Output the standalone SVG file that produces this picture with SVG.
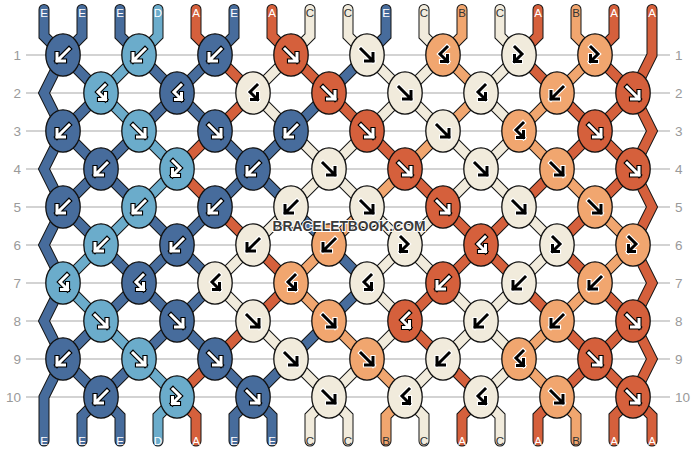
<svg xmlns="http://www.w3.org/2000/svg" xmlns:xlink="http://www.w3.org/1999/xlink" width="696" height="452" viewBox="0 0 696 452">
<style>
.ln{stroke:#C4C4C4;stroke-width:1.6}
.so{fill:none;stroke:#151515;stroke-width:11;stroke-linejoin:miter;stroke-linecap:round}
.sf{fill:none;stroke-width:9;stroke-linejoin:miter;stroke-linecap:round}
.sA{stroke:#D5603C}.sB{stroke:#F1A66F}.sC{stroke:#F1EBDC}.sD{stroke:#6BACCB}.sE{stroke:#476C9C}
.k{stroke:#111;stroke-width:1.3}
.kA{fill:#D5603C}.kB{fill:#F1A66F}.kC{fill:#F1EBDC}.kD{fill:#6BACCB}.kE{fill:#476C9C}
.wo{fill:none;stroke:#000;stroke-width:5.2;stroke-linecap:square;stroke-linejoin:miter}
.wi{fill:none;stroke:#fff;stroke-width:3;stroke-linecap:square;stroke-linejoin:miter}
.bo{fill:none;stroke:#fff;stroke-width:5.2;stroke-linecap:square;stroke-linejoin:miter}
.bi{fill:none;stroke:#000;stroke-width:3;stroke-linecap:square;stroke-linejoin:miter}
.rn{font-family:"Liberation Sans",Arial,sans-serif;font-size:13.5px;fill:#9A9A9A}
.lb{font-family:"Liberation Sans",Arial,sans-serif;font-size:11.5px;text-anchor:middle}
.lw{fill:#fff}.ld{fill:#333}
.wm{font-family:"Liberation Sans",Arial,sans-serif;font-weight:bold;font-size:14.5px;fill:#3A3A3A;stroke:#fff;stroke-width:2;paint-order:stroke;text-anchor:middle}
</style>
<defs>
<path id="pF" d="M-6,-6 L6,6 M6,-1.5 L6,6 L-1.5,6"/>
<path id="pB" d="M6,-6 L-6,6 M-6,-1.5 L-6,6 L1.5,6"/>
<path id="pFB" d="M-4,-8 L3,-1 L-4.5,6.5 M-4.5,0.5 L-4.5,6.5 L1.5,6.5"/>
<path id="pBF" d="M4,-8 L-3,-1 L4.5,6.5 M4.5,0.5 L4.5,6.5 L-1.5,6.5"/>
<g id="wF"><use href="#pF" class="wo"/><use href="#pF" class="wi"/></g>
<g id="wB"><use href="#pB" class="wo"/><use href="#pB" class="wi"/></g>
<g id="wFB"><use href="#pFB" class="wo"/><use href="#pFB" class="wi"/></g>
<g id="wBF"><use href="#pBF" class="wo"/><use href="#pBF" class="wi"/></g>
<g id="bF"><use href="#pF" class="bo"/><use href="#pF" class="bi"/></g>
<g id="bB"><use href="#pB" class="bo"/><use href="#pB" class="bi"/></g>
<g id="bFB"><use href="#pFB" class="bo"/><use href="#pFB" class="bi"/></g>
<g id="bBF"><use href="#pBF" class="bo"/><use href="#pBF" class="bi"/></g>
</defs>
<rect width="696" height="452" fill="#fff"/>
<g id="rows">
<line class="ln" x1="26" y1="55" x2="670" y2="55"/>
<line class="ln" x1="26" y1="93" x2="670" y2="93"/>
<line class="ln" x1="26" y1="131" x2="670" y2="131"/>
<line class="ln" x1="26" y1="169" x2="670" y2="169"/>
<line class="ln" x1="26" y1="207" x2="670" y2="207"/>
<line class="ln" x1="26" y1="245" x2="670" y2="245"/>
<line class="ln" x1="26" y1="283" x2="670" y2="283"/>
<line class="ln" x1="26" y1="321" x2="670" y2="321"/>
<line class="ln" x1="26" y1="359" x2="670" y2="359"/>
<line class="ln" x1="26" y1="397" x2="670" y2="397"/>
<g class="rn" text-anchor="end">
<text x="21" y="60">1</text><text x="21" y="98">2</text><text x="21" y="136">3</text><text x="21" y="174">4</text><text x="21" y="212">5</text><text x="21" y="250">6</text><text x="21" y="288">7</text><text x="21" y="326">8</text><text x="21" y="364">9</text><text x="21" y="402">10</text>
</g>
<g class="rn">
<text x="675" y="60">1</text><text x="675" y="98">2</text><text x="675" y="136">3</text><text x="675" y="174">4</text><text x="675" y="212">5</text><text x="675" y="250">6</text><text x="675" y="288">7</text><text x="675" y="326">8</text><text x="675" y="364">9</text><text x="675" y="402">10</text>
</g>
</g>
<g id="strings">
<g id="s0"><polyline class="so" points="44,9.5 44,36 63,55 101,93 63,131 44,169 63,207 101,245 139,283 101,321 63,359 44,397 44,441"/><polyline class="sf sE" points="44,9.5 44,36 63,55 101,93 63,131 44,169 63,207 101,245 139,283 101,321 63,359 44,397 44,441"/></g>
<g id="s1"><polyline class="so" points="82,9.5 82,36 63,55 44,93 63,131 101,169 139,207 177,245 215,283 177,321 139,359 101,397 82,416 82,441"/><polyline class="sf sE" points="82,9.5 82,36 63,55 44,93 63,131 101,169 139,207 177,245 215,283 177,321 139,359 101,397 82,416 82,441"/></g>
<g id="s2"><polyline class="so" points="120,9.5 120,36 139,55 177,93 139,131 101,169 63,207 44,245 63,283 44,321 63,359 101,397 120,416 120,441"/><polyline class="sf sE" points="120,9.5 120,36 139,55 177,93 139,131 101,169 63,207 44,245 63,283 44,321 63,359 101,397 120,416 120,441"/></g>
<g id="s3"><polyline class="so" points="158,9.5 158,36 139,55 101,93 139,131 177,169 139,207 101,245 63,283 101,321 139,359 177,397 158,416 158,441"/><polyline class="sf sD" points="158,9.5 158,36 139,55 101,93 139,131 177,169 139,207 101,245 63,283 101,321 139,359 177,397 158,416 158,441"/></g>
<g id="s4"><polyline class="so" points="196,9.5 196,36 215,55 253,93 215,131 177,169 215,207 253,245 291,283 253,321 215,359 177,397 196,416 196,441"/><polyline class="sf sA" points="196,9.5 196,36 215,55 253,93 215,131 177,169 215,207 253,245 291,283 253,321 215,359 177,397 196,416 196,441"/></g>
<g id="s5"><polyline class="so" points="234,9.5 234,36 215,55 177,93 215,131 253,169 291,207 329,245 367,283 329,321 291,359 253,397 234,416 234,441"/><polyline class="sf sE" points="234,9.5 234,36 215,55 177,93 215,131 253,169 291,207 329,245 367,283 329,321 291,359 253,397 234,416 234,441"/></g>
<g id="s6"><polyline class="so" points="272,9.5 272,36 291,55 329,93 367,131 405,169 443,207 481,245 443,283 405,321 443,359 481,397 462,416 462,441"/><polyline class="sf sA" points="272,9.5 272,36 291,55 329,93 367,131 405,169 443,207 481,245 443,283 405,321 443,359 481,397 462,416 462,441"/></g>
<g id="s7"><polyline class="so" points="310,9.5 310,36 291,55 253,93 291,131 329,169 367,207 405,245 367,283 405,321 367,359 329,397 310,416 310,441"/><polyline class="sf sC" points="310,9.5 310,36 291,55 253,93 291,131 329,169 367,207 405,245 367,283 405,321 367,359 329,397 310,416 310,441"/></g>
<g id="s8"><polyline class="so" points="348,9.5 348,36 367,55 405,93 443,131 481,169 519,207 557,245 519,283 481,321 443,359 405,397 424,416 424,441"/><polyline class="sf sC" points="348,9.5 348,36 367,55 405,93 443,131 481,169 519,207 557,245 519,283 481,321 443,359 405,397 424,416 424,441"/></g>
<g id="s9"><polyline class="so" points="386,9.5 386,36 367,55 329,93 291,131 253,169 215,207 177,245 139,283 177,321 215,359 253,397 272,416 272,441"/><polyline class="sf sE" points="386,9.5 386,36 367,55 329,93 291,131 253,169 215,207 177,245 139,283 177,321 215,359 253,397 272,416 272,441"/></g>
<g id="s10"><polyline class="so" points="424,9.5 424,36 443,55 405,93 367,131 329,169 291,207 253,245 215,283 253,321 291,359 329,397 348,416 348,441"/><polyline class="sf sC" points="424,9.5 424,36 443,55 405,93 367,131 329,169 291,207 253,245 215,283 253,321 291,359 329,397 348,416 348,441"/></g>
<g id="s11"><polyline class="so" points="462,9.5 462,36 443,55 481,93 443,131 405,169 367,207 329,245 291,283 329,321 367,359 405,397 386,416 386,441"/><polyline class="sf sB" points="462,9.5 462,36 443,55 481,93 443,131 405,169 367,207 329,245 291,283 329,321 367,359 405,397 386,416 386,441"/></g>
<g id="s12"><polyline class="so" points="500,9.5 500,36 519,55 481,93 519,131 481,169 443,207 405,245 443,283 481,321 519,359 481,397 500,416 500,441"/><polyline class="sf sC" points="500,9.5 500,36 519,55 481,93 519,131 481,169 443,207 405,245 443,283 481,321 519,359 481,397 500,416 500,441"/></g>
<g id="s13"><polyline class="so" points="538,9.5 538,36 519,55 557,93 595,131 633,169 652,207 633,245 652,283 633,321 595,359 557,397 538,416 538,441"/><polyline class="sf sA" points="538,9.5 538,36 519,55 557,93 595,131 633,169 652,207 633,245 652,283 633,321 595,359 557,397 538,416 538,441"/></g>
<g id="s14"><polyline class="so" points="576,9.5 576,36 595,55 557,93 519,131 557,169 595,207 633,245 595,283 557,321 519,359 557,397 576,416 576,441"/><polyline class="sf sB" points="576,9.5 576,36 595,55 557,93 519,131 557,169 595,207 633,245 595,283 557,321 519,359 557,397 576,416 576,441"/></g>
<g id="s15"><polyline class="so" points="614,9.5 614,36 595,55 633,93 652,131 633,169 595,207 557,245 595,283 633,321 652,359 633,397 614,416 614,441"/><polyline class="sf sA" points="614,9.5 614,36 595,55 633,93 652,131 633,169 595,207 557,245 595,283 633,321 652,359 633,397 614,416 614,441"/></g>
<g id="s16"><polyline class="so" points="652,9.5 652,55 633,93 595,131 557,169 519,207 481,245 519,283 557,321 595,359 633,397 652,416 652,441"/><polyline class="sf sA" points="652,9.5 652,55 633,93 595,131 557,169 519,207 481,245 519,283 557,321 595,359 633,397 652,416 652,441"/></g>
</g>
<g id="knots">
<g id="k1-1"><ellipse class="k kE" cx="63" cy="55" rx="17.2" ry="21.2"/><use href="#wB" x="63" y="55"/></g>
<g id="k1-2"><ellipse class="k kD" cx="139" cy="55" rx="17.2" ry="21.2"/><use href="#wB" x="139" y="55"/></g>
<g id="k1-3"><ellipse class="k kE" cx="215" cy="55" rx="17.2" ry="21.2"/><use href="#wB" x="215" y="55"/></g>
<g id="k1-4"><ellipse class="k kA" cx="291" cy="55" rx="17.2" ry="21.2"/><use href="#wF" x="291" y="55"/></g>
<g id="k1-5"><ellipse class="k kC" cx="367" cy="55" rx="17.2" ry="21.2"/><use href="#bF" x="367" y="55"/></g>
<g id="k1-6"><ellipse class="k kB" cx="443" cy="55" rx="17.2" ry="21.2"/><use href="#bBF" x="443" y="55"/></g>
<g id="k1-7"><ellipse class="k kC" cx="519" cy="55" rx="17.2" ry="21.2"/><use href="#bFB" x="519" y="55"/></g>
<g id="k1-8"><ellipse class="k kB" cx="595" cy="55" rx="17.2" ry="21.2"/><use href="#bFB" x="595" y="55"/></g>

<g id="k2-1"><ellipse class="k kD" cx="101" cy="93" rx="17.2" ry="21.2"/><use href="#wBF" x="101" y="93"/></g>
<g id="k2-2"><ellipse class="k kE" cx="177" cy="93" rx="17.2" ry="21.2"/><use href="#wBF" x="177" y="93"/></g>
<g id="k2-3"><ellipse class="k kC" cx="253" cy="93" rx="17.2" ry="21.2"/><use href="#bBF" x="253" y="93"/></g>
<g id="k2-4"><ellipse class="k kA" cx="329" cy="93" rx="17.2" ry="21.2"/><use href="#wF" x="329" y="93"/></g>
<g id="k2-5"><ellipse class="k kC" cx="405" cy="93" rx="17.2" ry="21.2"/><use href="#bF" x="405" y="93"/></g>
<g id="k2-6"><ellipse class="k kC" cx="481" cy="93" rx="17.2" ry="21.2"/><use href="#bBF" x="481" y="93"/></g>
<g id="k2-7"><ellipse class="k kB" cx="557" cy="93" rx="17.2" ry="21.2"/><use href="#bB" x="557" y="93"/></g>
<g id="k2-8"><ellipse class="k kA" cx="633" cy="93" rx="17.2" ry="21.2"/><use href="#wF" x="633" y="93"/></g>

<g id="k3-1"><ellipse class="k kE" cx="63" cy="131" rx="17.2" ry="21.2"/><use href="#wB" x="63" y="131"/></g>
<g id="k3-2"><ellipse class="k kD" cx="139" cy="131" rx="17.2" ry="21.2"/><use href="#wF" x="139" y="131"/></g>
<g id="k3-3"><ellipse class="k kE" cx="215" cy="131" rx="17.2" ry="21.2"/><use href="#wF" x="215" y="131"/></g>
<g id="k3-4"><ellipse class="k kE" cx="291" cy="131" rx="17.2" ry="21.2"/><use href="#wB" x="291" y="131"/></g>
<g id="k3-5"><ellipse class="k kA" cx="367" cy="131" rx="17.2" ry="21.2"/><use href="#wF" x="367" y="131"/></g>
<g id="k3-6"><ellipse class="k kC" cx="443" cy="131" rx="17.2" ry="21.2"/><use href="#bF" x="443" y="131"/></g>
<g id="k3-7"><ellipse class="k kB" cx="519" cy="131" rx="17.2" ry="21.2"/><use href="#bBF" x="519" y="131"/></g>
<g id="k3-8"><ellipse class="k kA" cx="595" cy="131" rx="17.2" ry="21.2"/><use href="#wF" x="595" y="131"/></g>

<g id="k4-1"><ellipse class="k kE" cx="101" cy="169" rx="17.2" ry="21.2"/><use href="#wB" x="101" y="169"/></g>
<g id="k4-2"><ellipse class="k kD" cx="177" cy="169" rx="17.2" ry="21.2"/><use href="#wFB" x="177" y="169"/></g>
<g id="k4-3"><ellipse class="k kE" cx="253" cy="169" rx="17.2" ry="21.2"/><use href="#wB" x="253" y="169"/></g>
<g id="k4-4"><ellipse class="k kC" cx="329" cy="169" rx="17.2" ry="21.2"/><use href="#bF" x="329" y="169"/></g>
<g id="k4-5"><ellipse class="k kA" cx="405" cy="169" rx="17.2" ry="21.2"/><use href="#wF" x="405" y="169"/></g>
<g id="k4-6"><ellipse class="k kC" cx="481" cy="169" rx="17.2" ry="21.2"/><use href="#bF" x="481" y="169"/></g>
<g id="k4-7"><ellipse class="k kB" cx="557" cy="169" rx="17.2" ry="21.2"/><use href="#bF" x="557" y="169"/></g>
<g id="k4-8"><ellipse class="k kA" cx="633" cy="169" rx="17.2" ry="21.2"/><use href="#wF" x="633" y="169"/></g>

<g id="k5-1"><ellipse class="k kE" cx="63" cy="207" rx="17.2" ry="21.2"/><use href="#wB" x="63" y="207"/></g>
<g id="k5-2"><ellipse class="k kD" cx="139" cy="207" rx="17.2" ry="21.2"/><use href="#wB" x="139" y="207"/></g>
<g id="k5-3"><ellipse class="k kE" cx="215" cy="207" rx="17.2" ry="21.2"/><use href="#wB" x="215" y="207"/></g>
<g id="k5-4"><ellipse class="k kC" cx="291" cy="207" rx="17.2" ry="21.2"/><use href="#bB" x="291" y="207"/></g>
<g id="k5-5"><ellipse class="k kC" cx="367" cy="207" rx="17.2" ry="21.2"/><use href="#bF" x="367" y="207"/></g>
<g id="k5-6"><ellipse class="k kA" cx="443" cy="207" rx="17.2" ry="21.2"/><use href="#wF" x="443" y="207"/></g>
<g id="k5-7"><ellipse class="k kC" cx="519" cy="207" rx="17.2" ry="21.2"/><use href="#bF" x="519" y="207"/></g>
<g id="k5-8"><ellipse class="k kB" cx="595" cy="207" rx="17.2" ry="21.2"/><use href="#bF" x="595" y="207"/></g>

<g id="k6-1"><ellipse class="k kD" cx="101" cy="245" rx="17.2" ry="21.2"/><use href="#wB" x="101" y="245"/></g>
<g id="k6-2"><ellipse class="k kE" cx="177" cy="245" rx="17.2" ry="21.2"/><use href="#wB" x="177" y="245"/></g>
<g id="k6-3"><ellipse class="k kC" cx="253" cy="245" rx="17.2" ry="21.2"/><use href="#bB" x="253" y="245"/></g>
<g id="k6-4"><ellipse class="k kB" cx="329" cy="245" rx="17.2" ry="21.2"/><use href="#bB" x="329" y="245"/></g>
<g id="k6-5"><ellipse class="k kC" cx="405" cy="245" rx="17.2" ry="21.2"/><use href="#bFB" x="405" y="245"/></g>
<g id="k6-6"><ellipse class="k kA" cx="481" cy="245" rx="17.2" ry="21.2"/><use href="#wBF" x="481" y="245"/></g>
<g id="k6-7"><ellipse class="k kC" cx="557" cy="245" rx="17.2" ry="21.2"/><use href="#bFB" x="557" y="245"/></g>
<g id="k6-8"><ellipse class="k kB" cx="633" cy="245" rx="17.2" ry="21.2"/><use href="#bFB" x="633" y="245"/></g>

<g id="k7-1"><ellipse class="k kD" cx="63" cy="283" rx="17.2" ry="21.2"/><use href="#wBF" x="63" y="283"/></g>
<g id="k7-2"><ellipse class="k kE" cx="139" cy="283" rx="17.2" ry="21.2"/><use href="#wBF" x="139" y="283"/></g>
<g id="k7-3"><ellipse class="k kC" cx="215" cy="283" rx="17.2" ry="21.2"/><use href="#bBF" x="215" y="283"/></g>
<g id="k7-4"><ellipse class="k kB" cx="291" cy="283" rx="17.2" ry="21.2"/><use href="#bBF" x="291" y="283"/></g>
<g id="k7-5"><ellipse class="k kC" cx="367" cy="283" rx="17.2" ry="21.2"/><use href="#bBF" x="367" y="283"/></g>
<g id="k7-6"><ellipse class="k kA" cx="443" cy="283" rx="17.2" ry="21.2"/><use href="#wB" x="443" y="283"/></g>
<g id="k7-7"><ellipse class="k kC" cx="519" cy="283" rx="17.2" ry="21.2"/><use href="#bB" x="519" y="283"/></g>
<g id="k7-8"><ellipse class="k kB" cx="595" cy="283" rx="17.2" ry="21.2"/><use href="#bB" x="595" y="283"/></g>

<g id="k8-1"><ellipse class="k kD" cx="101" cy="321" rx="17.2" ry="21.2"/><use href="#wF" x="101" y="321"/></g>
<g id="k8-2"><ellipse class="k kE" cx="177" cy="321" rx="17.2" ry="21.2"/><use href="#wF" x="177" y="321"/></g>
<g id="k8-3"><ellipse class="k kC" cx="253" cy="321" rx="17.2" ry="21.2"/><use href="#bF" x="253" y="321"/></g>
<g id="k8-4"><ellipse class="k kB" cx="329" cy="321" rx="17.2" ry="21.2"/><use href="#bF" x="329" y="321"/></g>
<g id="k8-5"><ellipse class="k kA" cx="405" cy="321" rx="17.2" ry="21.2"/><use href="#wBF" x="405" y="321"/></g>
<g id="k8-6"><ellipse class="k kC" cx="481" cy="321" rx="17.2" ry="21.2"/><use href="#bB" x="481" y="321"/></g>
<g id="k8-7"><ellipse class="k kB" cx="557" cy="321" rx="17.2" ry="21.2"/><use href="#bB" x="557" y="321"/></g>
<g id="k8-8"><ellipse class="k kA" cx="633" cy="321" rx="17.2" ry="21.2"/><use href="#wF" x="633" y="321"/></g>

<g id="k9-1"><ellipse class="k kE" cx="63" cy="359" rx="17.2" ry="21.2"/><use href="#wB" x="63" y="359"/></g>
<g id="k9-2"><ellipse class="k kD" cx="139" cy="359" rx="17.2" ry="21.2"/><use href="#wF" x="139" y="359"/></g>
<g id="k9-3"><ellipse class="k kE" cx="215" cy="359" rx="17.2" ry="21.2"/><use href="#wF" x="215" y="359"/></g>
<g id="k9-4"><ellipse class="k kC" cx="291" cy="359" rx="17.2" ry="21.2"/><use href="#bF" x="291" y="359"/></g>
<g id="k9-5"><ellipse class="k kB" cx="367" cy="359" rx="17.2" ry="21.2"/><use href="#bF" x="367" y="359"/></g>
<g id="k9-6"><ellipse class="k kC" cx="443" cy="359" rx="17.2" ry="21.2"/><use href="#bB" x="443" y="359"/></g>
<g id="k9-7"><ellipse class="k kB" cx="519" cy="359" rx="17.2" ry="21.2"/><use href="#bBF" x="519" y="359"/></g>
<g id="k9-8"><ellipse class="k kA" cx="595" cy="359" rx="17.2" ry="21.2"/><use href="#wF" x="595" y="359"/></g>

<g id="k10-1"><ellipse class="k kE" cx="101" cy="397" rx="17.2" ry="21.2"/><use href="#wB" x="101" y="397"/></g>
<g id="k10-2"><ellipse class="k kD" cx="177" cy="397" rx="17.2" ry="21.2"/><use href="#wFB" x="177" y="397"/></g>
<g id="k10-3"><ellipse class="k kE" cx="253" cy="397" rx="17.2" ry="21.2"/><use href="#wF" x="253" y="397"/></g>
<g id="k10-4"><ellipse class="k kC" cx="329" cy="397" rx="17.2" ry="21.2"/><use href="#bF" x="329" y="397"/></g>
<g id="k10-5"><ellipse class="k kC" cx="405" cy="397" rx="17.2" ry="21.2"/><use href="#bBF" x="405" y="397"/></g>
<g id="k10-6"><ellipse class="k kC" cx="481" cy="397" rx="17.2" ry="21.2"/><use href="#bBF" x="481" y="397"/></g>
<g id="k10-7"><ellipse class="k kB" cx="557" cy="397" rx="17.2" ry="21.2"/><use href="#bF" x="557" y="397"/></g>
<g id="k10-8"><ellipse class="k kA" cx="633" cy="397" rx="17.2" ry="21.2"/><use href="#wF" x="633" y="397"/></g>
</g>
<g id="top-labels" class="lb">
<text class="lw" x="44" y="17">E</text><text class="lw" x="82" y="17">E</text><text class="lw" x="120" y="17">E</text><text class="lw" x="158" y="17">D</text><text class="lw" x="196" y="17">A</text><text class="lw" x="234" y="17">E</text><text class="lw" x="272" y="17">A</text><text class="ld" x="310" y="17">C</text><text class="ld" x="348" y="17">C</text><text class="lw" x="386" y="17">E</text><text class="ld" x="424" y="17">C</text><text class="ld" x="462" y="17">B</text><text class="ld" x="500" y="17">C</text><text class="lw" x="538" y="17">A</text><text class="ld" x="576" y="17">B</text><text class="lw" x="614" y="17">A</text><text class="lw" x="652" y="17">A</text>
</g>
<g id="bottom-labels" class="lb">
<text class="lw" x="44" y="445">E</text><text class="lw" x="82" y="445">E</text><text class="lw" x="120" y="445">E</text><text class="lw" x="158" y="445">D</text><text class="lw" x="196" y="445">A</text><text class="lw" x="234" y="445">E</text><text class="lw" x="272" y="445">E</text><text class="ld" x="310" y="445">C</text><text class="ld" x="348" y="445">C</text><text class="ld" x="386" y="445">B</text><text class="ld" x="424" y="445">C</text><text class="lw" x="462" y="445">A</text><text class="ld" x="500" y="445">C</text><text class="lw" x="538" y="445">A</text><text class="ld" x="576" y="445">B</text><text class="lw" x="614" y="445">A</text><text class="lw" x="652" y="445">A</text>
</g>
<text class="wm" x="349" y="231" textLength="153" lengthAdjust="spacingAndGlyphs">BRACELETBOOK.COM</text>
</svg>
